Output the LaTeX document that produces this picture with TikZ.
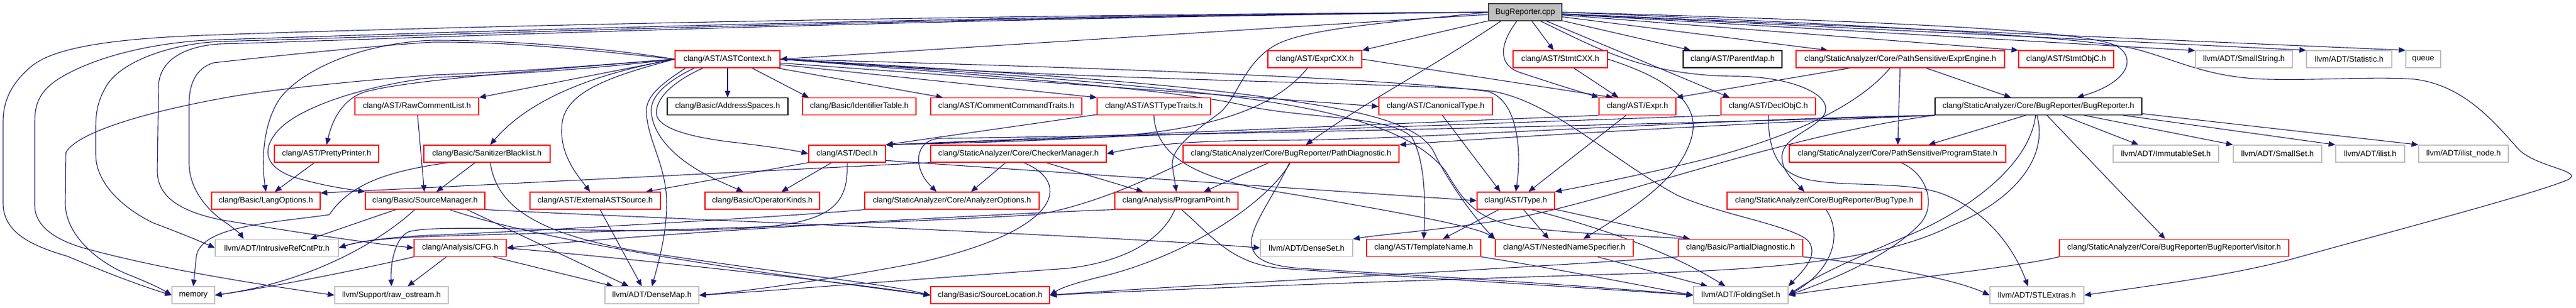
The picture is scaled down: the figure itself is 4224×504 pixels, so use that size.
\documentclass[tikz,border=0pt]{standalone}
\usepackage{fontspec}
\setmainfont{Liberation Sans}
\usetikzlibrary{arrows.meta}
\definecolor{eblue}{HTML}{191970}
\definecolor{lgray}{HTML}{BFBFBF}
\definecolor{rootline}{HTML}{404040}
\definecolor{bred}{HTML}{FF0000}
\pgfdeclarelayer{bg}
\pgfsetlayers{bg,main}
\begin{document}
\begin{tikzpicture}[x=1pt,y=-1pt,
  nb/.style={draw, fill=white, line width=1.2pt, minimum height=28pt, inner sep=0pt, font=\fontsize{13pt}{15pt}\selectfont, text=black},
  rb/.style={nb, draw=bred},
  gb/.style={nb, draw=lgray},
  kb/.style={nb, draw=black},
  rootb/.style={nb, draw=rootline, fill=lgray},
  edg/.style={draw=eblue, line width=1.1pt, -{Triangle[length=11pt,width=9pt]}}]
\path[use as bounding box] (0,0) rectangle (4224,504);

% row 0
\node[rootb, minimum width=120] (root) at (2501,20) {BugReporter.cpp};
% row 1
\node[rb, minimum width=172] (astctx) at (1193,97) {clang/AST/ASTContext.h};
\node[rb, minimum width=154] (exprcxx) at (2156,97) {clang/AST/ExprCXX.h};
\node[rb, minimum width=155] (stmtcxx) at (2558.5,97) {clang/AST/StmtCXX.h};
\node[kb, minimum width=162] (parentmap) at (2841,97) {clang/AST/ParentMap.h};
\node[rb, minimum width=342] (exprengine) at (3116,97) {clang/StaticAnalyzer/Core/PathSensitive/ExprEngine.h};
\node[rb, minimum width=156] (stmtobjc) at (3388,97) {clang/AST/StmtObjC.h};
\node[gb, minimum width=159] (smallstring) at (3679.5,97) {llvm/ADT/SmallString.h};
\node[gb, minimum width=140] (statistic) at (3852,97) {llvm/ADT/Statistic.h};
\node[gb, minimum width=57] (queue) at (3973.5,97) {queue};
% row 2
\node[rb, minimum width=203] (rawcomment) at (683.5,174.5) {clang/AST/RawCommentList.h};
\node[kb, minimum width=198] (addrspaces) at (1193,174.5) {clang/Basic/AddressSpaces.h};
\node[rb, minimum width=186] (identtable) at (1409,174.5) {clang/Basic/IdentifierTable.h};
\node[rb, minimum width=248] (commentcmd) at (1650,174.5) {clang/AST/CommentCommandTraits.h};
\node[rb, minimum width=186] (asttypetraits) at (1892,174.5) {clang/AST/ASTTypeTraits.h};
\node[rb, minimum width=186] (canonical) at (2354,174.5) {clang/AST/CanonicalType.h};
\node[rb, minimum width=126] (expr) at (2685,174.5) {clang/AST/Expr.h};
\node[rb, minimum width=155] (declobjc) at (2899.5,174.5) {clang/AST/DeclObjC.h};
\node[kb, minimum width=339] (bugreporterh) at (3342.5,174.5) {clang/StaticAnalyzer/Core/BugReporter/BugReporter.h};
% row 3
\node[rb, minimum width=171] (prettyprinter) at (535.5,252) {clang/AST/PrettyPrinter.h};
\node[rb, minimum width=207] (sanitizer) at (798.5,252) {clang/Basic/SanitizerBlacklist.h};
\node[rb, minimum width=126] (decl) at (1389,252) {clang/AST/Decl.h};
\node[rb, minimum width=288] (checkermgr) at (1670,252) {clang/StaticAnalyzer/Core/CheckerManager.h};
\node[rb, minimum width=354] (pathdiag) at (2117,252) {clang/StaticAnalyzer/Core/BugReporter/PathDiagnostic.h};
\node[rb, minimum width=355] (programstate) at (3111.5,252) {clang/StaticAnalyzer/Core/PathSensitive/ProgramState.h};
\node[gb, minimum width=173] (immutableset) at (3551.5,252) {llvm/ADT/ImmutableSet.h};
\node[gb, minimum width=145] (smallset) at (3734.5,252) {llvm/ADT/SmallSet.h};
\node[gb, minimum width=113] (ilist) at (3886.5,252) {llvm/ADT/ilist.h};
\node[gb, minimum width=147] (ilistnode) at (4039.5,252) {llvm/ADT/ilist\_node.h};
% row 4
\node[rb, minimum width=178] (langopts) at (436,329) {clang/Basic/LangOptions.h};
\node[rb, minimum width=196] (srcmgr) at (697,329) {clang/Basic/SourceManager.h};
\node[rb, minimum width=214] (extast) at (976,329) {clang/AST/ExternalASTSource.h};
\node[rb, minimum width=188] (opkinds) at (1250,329) {clang/Basic/OperatorKinds.h};
\node[rb, minimum width=286] (anaopts) at (1561,329) {clang/StaticAnalyzer/Core/AnalyzerOptions.h};
\node[rb, minimum width=202] (progpoint) at (1929,329) {clang/Analysis/ProgramPoint.h};
\node[rb, minimum width=127] (type) at (2485.5,329) {clang/AST/Type.h};
\node[rb, minimum width=319] (bugtype) at (2991.5,329) {clang/StaticAnalyzer/Core/BugReporter/BugType.h};
% row 5
\node[gb, minimum width=202] (intrusive) at (454,406.5) {llvm/ADT/IntrusiveRefCntPtr.h};
\node[rb, minimum width=151] (cfg) at (754.5,406.5) {clang/Analysis/CFG.h};
\node[gb, minimum width=151] (denseset) at (2142.5,406.5) {llvm/ADT/DenseSet.h};
\node[rb, minimum width=187] (templatename) at (2334.5,406.5) {clang/AST/TemplateName.h};
\node[rb, minimum width=226] (nns) at (2565,406.5) {clang/AST/NestedNameSpecifier.h};
\node[rb, minimum width=204] (partialdiag) at (2854,406.5) {clang/Basic/PartialDiagnostic.h};
\node[rb, minimum width=376] (brvisitor) at (3565,406.5) {clang/StaticAnalyzer/Core/BugReporter/BugReporterVisitor.h};
% row 6
\node[gb, minimum width=70] (memory) at (317,484) {memory};
\node[gb, minimum width=186] (rawostream) at (642,484) {llvm/Support/raw\_ostream.h};
\node[gb, minimum width=154] (densemap) at (1069,484) {llvm/ADT/DenseMap.h};
\node[rb, minimum width=195] (srcloc) at (1623.5,484) {clang/Basic/SourceLocation.h};
\node[gb, minimum width=155] (foldingset) at (2854.5,484) {llvm/ADT/FoldingSet.h};
\node[gb, minimum width=154] (stlextras) at (3340,484) {llvm/ADT/STLExtras.h};

\begin{pgfonlayer}{bg}
\fill[white] (0,0) rectangle (4224,504);
% ---- BugReporter.cpp
\draw[edg] (root.west) .. controls (1400,26) and (600,48) .. (360,57) .. controls (200,62) and (90,75) .. (50,110) .. controls (15,140) and (5,170) .. (5,200) -- (5,333) .. controls (5,385) and (60,405) .. (110,420) .. controls (170,445) and (220,465) .. (memory.west);
\draw[edg] (root.west) .. controls (1400,28) and (600,58) .. (360,65) .. controls (250,68) and (150,95) .. (95,130) .. controls (65,150) and (57,170) .. (57,200) -- (57,337) .. controls (57,375) and (100,398) .. (150,410) .. controls (280,445) and (450,470) .. (rawostream.west);
\draw[edg] (root.west) .. controls (1400,30) and (600,62) .. (360,68) .. controls (280,72) and (200,100) .. (175,140) .. controls (160,165) and (157,185) .. (157,210) -- (157,253) .. controls (157,300) and (200,340) .. (250,365) .. controls (290,380) and (320,392) .. (intrusive.west);
\draw[edg] (root.west) .. controls (1400,32) and (600,66) .. (360,72) .. controls (300,76) and (262,100) .. (260,140) -- (258,280) .. controls (258,320) and (290,345) .. (360,360) .. controls (480,380) and (600,398) .. (cfg.west);
\draw[edg] (root) -- (astctx.east);
\draw[edg] (root) -- (exprcxx.north east);
\draw[edg] (root) -- (stmtcxx);
\draw[edg] (root) -- (parentmap.168);
\draw[edg] (root) -- (exprengine.173);
\draw[edg] (root) -- (stmtobjc.north west);
\draw[edg] (root) -- (smallstring.170);
\draw[edg] (root) -- (statistic.north west);
\draw[edg] (root) -- (queue.north west);
\draw[edg] (root.east) .. controls (3100,35) and (3420,50) .. (3470,75) .. controls (3505,95) and (3490,135) .. (bugreporterh.13);
\draw[edg] (root.east) .. controls (3000,38) and (3400,58) .. (3500,80) .. controls (3570,98) and (3620,128) .. (3720,130) .. controls (3800,132) and (3900,125) .. (3960,130) .. controls (4040,140) and (4090,200) .. (4130,245) .. controls (4160,275) and (4240,280) .. (4210,295) .. controls (4150,320) and (3900,385) .. (3750,427) .. controls (3640,455) and (3500,472) .. (stlextras.east);
\draw[edg] (root.-133) .. controls (2460,70) and (2455,105) .. (2490,118) .. controls (2540,135) and (2590,150) .. (expr.north west);
\draw[edg] (root) -- (declobjc.167);
\draw[edg] (root.-160) .. controls (2350,110) and (2250,160) .. (pathdiag.31);
\draw[edg] (root.west) .. controls (2300,35) and (2150,45) .. (2095,72) .. controls (2040,100) and (2030,160) .. (2000,185) .. controls (1960,215) and (1922,240) .. (1922,270) -- (progpoint.north);
\draw[edg] (root.-30) .. controls (2620,80) and (2700,125) .. (2850,125) .. controls (2950,127) and (3010,160) .. (2990,190) .. controls (2970,215) and (2925,225) .. (2922,255) .. controls (2920,280) and (2945,300) .. (bugtype.156);
% ---- DeclObjC
\draw[edg] (declobjc.south) .. controls (2900,240) and (2910,278) .. (2955,292) .. controls (3010,308) and (3120,296) .. (3180,316) .. controls (3250,340) and (3300,400) .. (stlextras.135);
\draw[edg] (declobjc.south west) -- (decl.north east);
% ---- ASTContext
\draw[edg] (astctx.west) .. controls (1000,80) and (850,66) .. (710,66) .. controls (600,70) and (500,110) .. (460,160) .. controls (432,200) and (428,260) .. (langopts.north);
\draw[edg] (astctx.west) .. controls (1000,86) and (850,68) .. (710,69) .. controls (600,76) and (420,95) .. (350,103) .. controls (320,112) and (310,140) .. (310,170) -- (310,267) .. controls (310,310) and (340,345) .. (370,365) .. controls (385,375) and (395,385) .. (intrusive.165);
\draw[edg] (astctx.west) .. controls (1000,105) and (850,118) .. (710,123) .. controls (550,135) and (420,150) .. (360,162) .. controls (250,182) and (128,215) .. (108,250) -- (107,333) .. controls (107,385) and (160,430) .. (210,450) .. controls (240,462) and (262,472) .. (memory.west);
\draw[edg] (astctx.west) .. controls (1000,110) and (850,122) .. (710,127) .. controls (600,140) and (490,175) .. (455,215) .. controls (425,250) and (440,275) .. (480,290) .. controls (530,305) and (570,310) .. (srcmgr.north west);
\draw[edg] (astctx.west) .. controls (950,110) and (680,130) .. (610,148) .. controls (565,155) and (545,195) .. (prettyprinter.north);
\draw[edg] (astctx.west) -- (rawcomment.north east);
\draw[edg] (astctx.west) .. controls (980,120) and (870,160) .. (sanitizer.70);
\draw[edg] (astctx.west) .. controls (1000,125) and (930,150) .. (922,200) .. controls (915,250) and (945,285) .. (extast.120);
\draw[edg] (astctx) -- (addrspaces);
\draw[edg] (astctx.-20) -- (identtable.170);
\draw[edg] (astctx.200) .. controls (1100,135) and (1072,165) .. (1077,190) .. controls (1085,215) and (1150,227) .. (1200,233) .. controls (1260,240) and (1300,246) .. (decl.west);
\draw[edg] (astctx.195) .. controls (1090,135) and (1065,160) .. (1068,185) .. controls (1072,225) and (1110,260) .. (1150,282) .. controls (1175,296) and (1200,306) .. (opkinds.155);
\draw[edg] (astctx.192) .. controls (1080,140) and (1058,160) .. (1060,185) .. controls (1062,230) and (1092,270) .. (1093,330) .. controls (1094,380) and (1080,430) .. (densemap.north);
\draw[edg] (astctx) -- (commentcmd.172);
\draw[edg] (astctx) -- (asttypetraits.north west);
\draw[edg] (astctx) -- (canonical.west);
\draw[edg] (astctx.east) .. controls (1800,110) and (2300,130) .. (2440,150) .. controls (2490,165) and (2495,250) .. (type.north);
\draw[edg] (astctx.east) .. controls (1700,130) and (1950,150) .. (2050,175) .. controls (2150,195) and (2280,190) .. (2315,225) .. controls (2335,260) and (2338,320) .. (templatename.north);
\draw[edg] (astctx.east) .. controls (1700,120) and (1950,140) .. (2100,163) .. controls (2200,178) and (2320,195) .. (2350,247) .. controls (2375,300) and (2420,360) .. (nns.north west);
\draw[edg] (astctx.east) .. controls (1700,125) and (1950,145) .. (2100,170) .. controls (2250,195) and (2330,230) .. (2370,280) .. controls (2400,330) and (2420,362) .. (2500,373) .. controls (2600,385) and (2700,387) .. (partialdiag.170);
\draw[edg] (astctx.east) .. controls (1800,135) and (2350,135) .. (2450,150) .. controls (2550,170) and (2640,260) .. (2750,320) .. controls (2820,352) and (2940,370) .. (2965,395) .. controls (2985,420) and (2950,450) .. (foldingset.north east);
% ---- Decl
\draw[edg] (decl.south west) -- (extast.10);
\draw[edg] (decl) -- (opkinds.25);
\draw[edg] (decl.-10) -- (type.west);
\draw[edg] (decl.south) .. controls (1392,340) and (1360,370) .. (1200,375) .. controls (1000,385) and (720,365) .. (670,380) .. controls (645,392) and (640,440) .. (rawostream.north);
% ---- Expr, ExprCXX, StmtCXX
\draw[edg] (expr.south west) -- (decl.north east);
\draw[edg] (expr) -- (type.35);
\draw[edg] (exprcxx) .. controls (2080,190) and (1950,220) .. (1750,228) .. controls (1600,235) and (1500,236) .. (decl.north east);
\draw[edg] (exprcxx.east) -- (expr.160);
\draw[edg] (stmtcxx) -- (expr.155);
\draw[edg] (stmtcxx.east) .. controls (2740,130) and (2785,170) .. (2775,220) .. controls (2760,290) and (2680,340) .. (nns.25);
% ---- CanonicalType, ASTTypeTraits
\draw[edg] (canonical) -- (type.150);
\draw[edg] (asttypetraits) -- (decl.north east);
\draw[edg] (asttypetraits.south) .. controls (1895,250) and (1950,290) .. (2080,312) .. controls (2250,340) and (2420,370) .. (nns.north west);
% ---- RawCommentList, PrettyPrinter, SanitizerBlacklist
\draw[edg] (rawcomment) -- (srcmgr);
\draw[edg] (prettyprinter) -- (langopts.45);
\draw[edg] (sanitizer) -- (srcmgr.38);
\draw[edg] (sanitizer.-70) .. controls (815,340) and (880,390) .. (1100,420) .. controls (1300,450) and (1450,465) .. (srcloc.west);
\draw[edg] (sanitizer.-167) .. controls (640,280) and (575,300) .. (540,352) .. controls (450,365) and (330,370) .. (322,420) -- (memory.north);
% ---- SourceManager
\draw[edg] (srcmgr.-163) -- (intrusive.15);
\draw[edg] (srcmgr.-139) .. controls (630,390) and (520,460) .. (memory.east);
\draw[edg] (srcmgr.-12) -- (densemap.159);
\draw[edg] (srcmgr.-20) .. controls (900,400) and (1300,455) .. (srcloc.west);
\draw[edg] (srcmgr.south east) .. controls (1000,355) and (1800,385) .. (denseset.west);
% ---- CFG, ExternalASTSource
\draw[edg] (cfg.-147) -- (rawostream.29);
\draw[edg] (cfg.south west) .. controls (600,440) and (450,470) .. (memory.east);
\draw[edg] (cfg.-15) -- (densemap.167);
\draw[edg] (cfg.east) .. controls (1100,430) and (1400,465) .. (srcloc.west);
\draw[edg] (extast) -- (densemap.139);
% ---- CheckerManager
\draw[edg] (checkermgr.-145) -- (anaopts.25);
\draw[edg] (checkermgr.south west) -- (langopts.8);
\draw[edg] (checkermgr.-18) -- (progpoint.165);
\draw[edg] (checkermgr.-60) .. controls (1760,300) and (1740,380) .. (1500,432) .. controls (1350,460) and (1220,478) .. (densemap.east);
% ---- ProgramPoint
\draw[edg] (progpoint.south west) .. controls (1650,350) and (1100,380) .. (cfg.east);
\draw[edg] (progpoint.-100) .. controls (1905,395) and (1840,430) .. (1750,440) .. controls (1500,458) and (1250,478) .. (densemap.east);
\draw[edg] (progpoint.-60) .. controls (1990,390) and (2020,432) .. (2100,440) .. controls (2400,460) and (2650,475) .. (foldingset.west);
% ---- PathDiagnostic
\draw[edg] (pathdiag.-158) -- (progpoint.18);
\draw[edg] (pathdiag.south west) .. controls (1900,285) and (1800,335) .. (1700,352) .. controls (1300,375) and (850,382) .. (700,388) .. controls (640,390) and (590,395) .. (intrusive.east);
\draw[edg] (pathdiag.-95) .. controls (2080,330) and (1950,420) .. (1800,455) .. controls (1760,465) and (1740,472) .. (srcloc.east);
\draw[edg] (pathdiag.-100) .. controls (2090,320) and (2050,370) .. (2052,400) .. controls (2055,430) and (2090,438) .. (2150,441) .. controls (2400,456) and (2650,472) .. (foldingset.west);
% ---- AnalyzerOptions
\draw[edg] (anaopts.south west) .. controls (1300,355) and (850,380) .. (700,386) .. controls (640,389) and (590,395) .. (intrusive.east);
% ---- Type and below
\draw[edg] (type) -- (templatename.25);
\draw[edg] (type) -- (nns.150);
\draw[edg] (type) -- (partialdiag.170);
\draw[edg] (type.-30) .. controls (2650,380) and (2750,420) .. (foldingset.150);
\draw[edg] (templatename.south east) .. controls (2550,440) and (2700,470) .. (foldingset.west);
\draw[edg] (nns.-15) -- (foldingset.165);
\draw[edg] (partialdiag.south west) .. controls (2500,440) and (1900,470) .. (srcloc.east);
\draw[edg] (partialdiag.south east) .. controls (3050,430) and (3200,455) .. (stlextras.west);
\draw[edg] (bugtype.-80) .. controls (3020,380) and (3010,440) .. (foldingset.east);
\draw[edg] (programstate.-70) .. controls (3160,285) and (3175,335) .. (3150,365) .. controls (3100,420) and (3000,460) .. (foldingset.east);
\draw[edg] (brvisitor.south west) .. controls (3300,440) and (3050,465) .. (foldingset.east);
% ---- BugReporter.h
\draw[edg] (bugreporterh.south west) .. controls (2800,195) and (2300,230) .. (2100,230) .. controls (1950,230) and (1880,238) .. (checkermgr.east);
\draw[edg] (bugreporterh.south west) .. controls (2800,205) and (2450,226) .. (pathdiag.north east);
\draw[edg] (bugreporterh.south west) .. controls (2700,205) and (1900,222) .. (1540,227) .. controls (1500,230) and (1495,275) .. (anaopts.150);
\draw[edg] (bugreporterh.-145) -- (programstate.16);
\draw[edg] (bugreporterh.-20) -- (immutableset.162);
\draw[edg] (bugreporterh.-11) -- (smallset.north west);
\draw[edg] (bugreporterh.-6) -- (ilist.north west);
\draw[edg] (bugreporterh.-4) -- (ilistnode.north west);
\draw[edg] (bugreporterh) -- (brvisitor.135);
\draw[edg] (bugreporterh.-108) .. controls (3330,260) and (3250,330) .. (3150,377) .. controls (3050,420) and (2980,450) .. (foldingset.east);
\draw[edg] (bugreporterh.-100) .. controls (3360,260) and (3300,330) .. (3200,370) .. controls (3100,420) and (2950,440) .. (2700,448) .. controls (2300,460) and (1900,475) .. (srcloc.east);
\draw[edg] (bugreporterh.south west) .. controls (2900,225) and (2620,340) .. (2450,363) .. controls (2350,378) and (2260,385) .. (denseset.north east);
% ---- ExprEngine
\draw[edg] (exprengine.-19) -- (bugreporterh.162);
\draw[edg] (exprengine) -- (programstate);
\draw[edg] (exprengine.-170) -- (expr.north east);
\draw[edg] (exprengine.-139) .. controls (3050,170) and (2950,220) .. (2800,260) .. controls (2700,285) and (2600,305) .. (type.north east);
\end{pgfonlayer}
\end{tikzpicture}
\end{document}
